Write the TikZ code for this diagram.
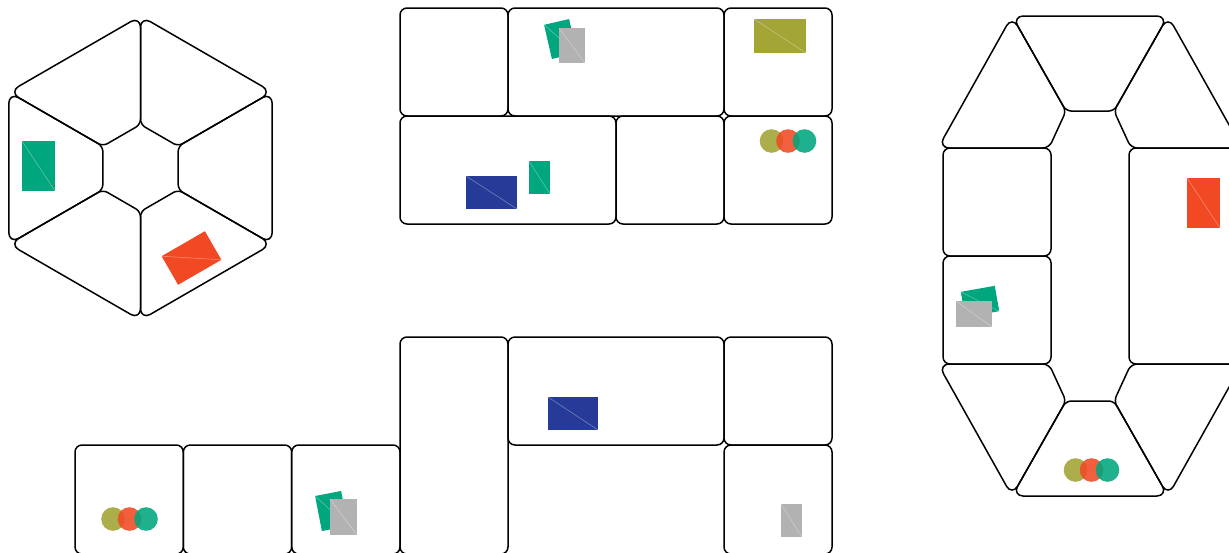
\documentclass[tikz,border=0pt]{standalone}
\usetikzlibrary{calc}
\definecolor{tgreen}{RGB}{0,166,126}
\definecolor{tgray}{RGB}{178,178,178}
\definecolor{tolive}{RGB}{163,165,55}
\definecolor{tblue}{RGB}{38,59,152}
\definecolor{tred}{RGB}{240,73,35}
\newcommand{\tokrect}[6]{%
  \begin{scope}[shift={(#1,#2)},rotate=#5]
    \fill[#6] ({-(#3)/2},{-(#4)/2}) rectangle ({(#3)/2},{(#4)/2});
    \draw[diag] ({-(#3)/2},{-(#4)/2}) -- ({(#3)/2},{(#4)/2});
  \end{scope}}
\newcommand{\tokdots}[3]{%
  \fill[dotolive] (#1,#2) circle[radius=11.8];
  \fill[dotred] ({#1+#3},#2) circle[radius=11.8];
  \fill[dotgreen] ({#1+2*#3},#2) circle[radius=11.8];}
% quadrilateral with its own rounding length at each corner
\newcommand{\rquad}[8]{%
  \draw[wedge] ($(#1)!#2!(#3)$)
   -- ($(#3)!#4!(#1)$) .. controls ($(#3)!0.5*#4!(#1)$) and ($(#3)!0.5*#4!(#5)$) .. ($(#3)!#4!(#5)$)
   -- ($(#5)!#6!(#3)$) .. controls ($(#5)!0.5*#6!(#3)$) and ($(#5)!0.5*#6!(#7)$) .. ($(#5)!#6!(#7)$)
   -- ($(#7)!#8!(#5)$) .. controls ($(#7)!0.5*#8!(#5)$) and ($(#7)!0.5*#8!(#1)$) .. ($(#7)!#8!(#1)$)
   -- ($(#1)!#2!(#7)$) .. controls ($(#1)!0.5*#2!(#7)$) and ($(#1)!0.5*#2!(#3)$) .. ($(#1)!#2!(#3)$)
   -- cycle;}
\begin{document}
\begin{tikzpicture}[x=0.5pt,y=-0.5pt,
  tile/.style={draw=black,line width=0.75pt,rounded corners=3.5pt},
  wedge/.style={draw=black,line width=0.75pt},
  diag/.style={draw=white,draw opacity=0.35,line width=0.3pt},
  dotolive/.style={fill=tolive,fill opacity=0.9},
  dotred/.style={fill=tred,fill opacity=0.88},
  dotgreen/.style={fill=tgreen,fill opacity=0.88},
]
\useasboundingbox (0,0) rectangle (1229,552);
\begin{scope}
\clip (0,0) rectangle (1229,552);

% ---------- hexagon board ----------
\foreach \k in {0,...,5} {
  \coordinate (ha) at ($(140.5,168)+({90+60*\k}:152)$);
  \coordinate (hb) at ($(140.5,168)+({150+60*\k}:152)$);
  \coordinate (hc) at ($(140.5,168)+({150+60*\k}:43.5)$);
  \coordinate (hd) at ($(140.5,168)+({90+60*\k}:43.5)$);
  \rquad{ha}{5.5pt}{hb}{5.5pt}{hc}{2.5pt}{hd}{2.5pt}
}
\tokrect{38.5}{166}{33}{50}{0}{tgreen}
\tokrect{191.5}{258}{50}{33}{30}{tred}

% ---------- top grid ----------
\draw[tile] (400,8) rectangle (508,116);
\draw[tile] (508,8) rectangle (724,116);
\draw[tile] (724,8) rectangle (832,116);
\draw[tile] (400,116) rectangle (616,224);
\draw[tile] (616,116) rectangle (724,224);
\draw[tile] (724,116) rectangle (832,224);
\tokrect{560.5}{39}{25.7}{35}{13}{tgreen}
\tokrect{572}{45.5}{26}{35}{0}{tgray}
\tokrect{780}{36}{52}{34}{0}{tolive}
\tokrect{491.5}{192.5}{51}{33}{0}{tblue}
\tokrect{539.5}{177.5}{21}{33}{0}{tgreen}
\tokdots{771.5}{141}{16.5}

% ---------- bottom grid ----------
\draw[tile] (75,445) rectangle (183.3,554);
\draw[tile] (183.3,445) rectangle (291.7,554);
\draw[tile] (291.7,445) rectangle (400,554);
\draw[tile] (400,337) rectangle (508,554);
\draw[tile] (508,337) rectangle (724,445);
\draw[tile] (724,337) rectangle (832,445);
\draw[tile] (724,445) rectangle (832,554);
\tokdots{113}{519}{16.5}
\tokrect{331.5}{511}{26.5}{35.7}{11}{tgreen}
\tokrect{343.5}{517}{27}{36}{0}{tgray}
\tokrect{573}{413.5}{50}{33}{0}{tblue}
\tokrect{791.5}{520.5}{21}{33}{0}{tgray}

% ---------- elongated board ----------
\coordinate (p1) at (1012,16);
\coordinate (p2) at (1168,16);
\coordinate (p3) at (1114,111);
\coordinate (p4) at (1066,111);
\coordinate (p5) at (1049,148);
\coordinate (p6) at (938,148);
\coordinate (p7) at (1131,148);
\coordinate (p8) at (1242,148);
\coordinate (q1) at (1012,496);
\coordinate (q2) at (1168,496);
\coordinate (q3) at (1114,401);
\coordinate (q4) at (1066,401);
\coordinate (q5) at (1049,364);
\coordinate (q6) at (938,364);
\coordinate (q7) at (1131,364);
\coordinate (q8) at (1242,364);
\rquad{p1}{5.5pt}{p2}{5.5pt}{p3}{2.5pt}{p4}{2.5pt}
\rquad{p1}{5.5pt}{p4}{2.5pt}{p5}{3pt}{p6}{5.5pt}
\rquad{p2}{5.5pt}{p8}{5.5pt}{p7}{3pt}{p3}{2.5pt}
\rquad{q1}{5.5pt}{q2}{5.5pt}{q3}{2.5pt}{q4}{2.5pt}
\rquad{q1}{5.5pt}{q4}{2.5pt}{q5}{3pt}{q6}{5.5pt}
\rquad{q2}{5.5pt}{q8}{5.5pt}{q7}{3pt}{q3}{2.5pt}
\draw[tile] (943,148) rectangle (1051,256);
\draw[tile] (943,256) rectangle (1051,364);
\draw[tile] (1129,148) rectangle (1237,364);
\tokrect{1203.5}{203}{33}{50}{0}{tred}
\tokrect{980}{301.5}{34.5}{25.7}{10}{tgreen}
\tokrect{974}{314}{36}{26}{0}{tgray}
\tokdots{1075.5}{470}{16}
\end{scope}
\end{tikzpicture}
\end{document}
